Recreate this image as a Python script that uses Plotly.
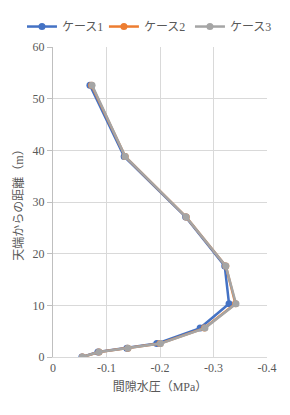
import plotly.graph_objects as go

depth = [52.6, 38.8, 27.1, 17.6, 10.3, 5.6, 2.6, 1.7, 0.95, 0.0]
case1 = [-0.069, -0.133, -0.248, -0.321, -0.329, -0.275, -0.194, -0.138, -0.084, -0.054]
case2 = [-0.072, -0.135, -0.249, -0.323, -0.341, -0.283, -0.200, -0.140, -0.086, -0.055]
case3 = [-0.073, -0.135, -0.249, -0.323, -0.342, -0.284, -0.201, -0.140, -0.086, -0.055]
names = ["ケース1", "ケース2", "ケース3"]
colors = ["#4472C4", "#ED7D31", "#A5A5A5"]
xticks = [0, -0.1, -0.2, -0.3, -0.4]
xticklabels = ["0", "-0.1", "-0.2", "-0.3", "-0.4"]
yticks = [0, 10, 20, 30, 40, 50, 60]

font_fam = "Liberation Serif, Noto Sans CJK JP"
legend_ids = ["legend", "legend2", "legend3"]
legend_x = [-0.145, 0.238, 0.64]

fig = go.Figure()
for name, xs, c, lid in zip(names, [case1, case2, case3], colors, legend_ids):
    fig.add_trace(go.Scatter(
        x=xs, y=depth, name=name, mode="lines+markers",
        line=dict(color=c, width=2.5),
        marker=dict(color=c, size=7),
        legend=lid,
    ))

legend_common = dict(orientation="h", xanchor="left",
                     y=1.066, yanchor="middle",
                     font=dict(size=12, color="#595959"), itemwidth=30,
                     bgcolor="rgba(0,0,0,0)")

fig.update_layout(
    width=290, height=415,
    margin=dict(l=53, r=23, t=40, b=58),
    paper_bgcolor="white", plot_bgcolor="white",
    font=dict(family=font_fam, color="#595959", size=12),
    showlegend=True,
    legend=dict(x=legend_x[0], **legend_common),
    legend2=dict(x=legend_x[1], **legend_common),
    legend3=dict(x=legend_x[2], **legend_common),
    xaxis=dict(range=[0, -0.4], tickvals=xticks, ticktext=xticklabels,
               showgrid=True, gridcolor="#D9D9D9", gridwidth=1,
               zeroline=False, showline=True, linecolor="#D9D9D9",
               ticks="", title=dict(text="間隙水圧（MPa）", font=dict(size=12, color="#595959"), standoff=8)),
    yaxis=dict(range=[0, 60], tickvals=yticks,
               showgrid=True, gridcolor="#D9D9D9", gridwidth=1,
               zeroline=False, showline=True, linecolor="#BFBFBF",
               ticks="outside", ticklen=5, tickcolor="#BFBFBF",
               title=dict(text="天端からの距離（m）", font=dict(size=12, color="#595959"), standoff=6)),
)
fig.write_html("out.html")
